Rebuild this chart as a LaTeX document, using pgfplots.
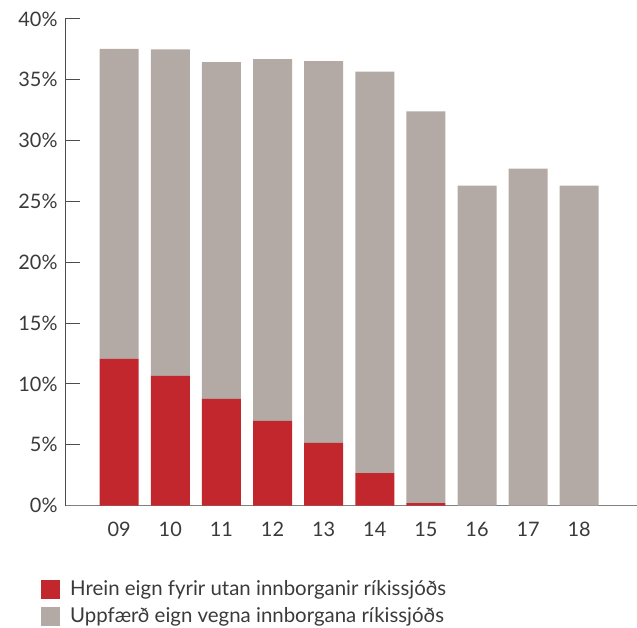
\documentclass[border=0pt]{standalone}
\usepackage{pgfplots}
\pgfplotsset{compat=1.18}
\usepackage{fontspec}
\setmainfont{Lato}
\definecolor{barred}{HTML}{C1272D}
\definecolor{bargray}{HTML}{B3A9A5}
\definecolor{txt}{HTML}{3A3A3A}
\begin{document}
\begin{tikzpicture}[x=1bp,y=1bp]
\useasboundingbox (-65bp,-122.5bp) rectangle (572bp,505.5bp);
\begin{axis}[
  at={(0,0)}, anchor=south west,
  scale only axis,
  width=572bp, height=486.5bp,
  xmin=-1.06, xmax=10.13,
  ymin=0, ymax=40,
  ybar stacked,
  bar width=39bp,
  axis x line=bottom, axis y line=left,
  x axis line style={-, draw=black!50, line width=1.3pt},
  y axis line style={-, draw=black!70, line width=1pt},
  xtick={0,...,9},
  xticklabels={09,10,11,12,13,14,15,16,17,18},
  x tick style={draw=none},
  ytick={0,5,...,40},
  yticklabels={0\%,5\%,10\%,15\%,20\%,25\%,30\%,35\%,40\%},
  y tick style={draw=black!70, line width=1pt},
  tick align=inside,
  major tick length=15bp,
  ytick pos=left,
  tick label style={font=\fontsize{20}{23}\selectfont, text=txt},
  yticklabel style={xshift=-4bp},
  xticklabel style={yshift=-13bp},
  legend style={at={(0,0)}, anchor=north west, xshift=-27bp, yshift=-72bp,
    draw=none, fill=none, font=\fontsize{20.5}{23}\selectfont, text=txt,
    row sep=8bp, column sep=10bp, nodes={inner sep=0pt}},
  legend cell align=left,
  legend image code/.code={\fill[#1] (0bp,-9.5bp) rectangle (19bp,9.5bp);},
]
\addplot[fill=barred, draw=none] coordinates {
(0,12.05) (1,10.65) (2,8.76) (3,6.95) (4,5.14) (5,2.67) (6,0.2) (7,0) (8,0) (9,0)};
\addplot[fill=bargray, draw=none] coordinates {
(0,25.5) (1,26.85) (2,27.7) (3,29.75) (4,31.4) (5,33.0) (6,32.2) (7,26.3) (8,27.7) (9,26.3)};
\legend{Hrein eign fyrir utan innborganir ríkissjóðs, Uppfærð eign vegna innborgana ríkissjóðs}
\end{axis}
\end{tikzpicture}
\end{document}
